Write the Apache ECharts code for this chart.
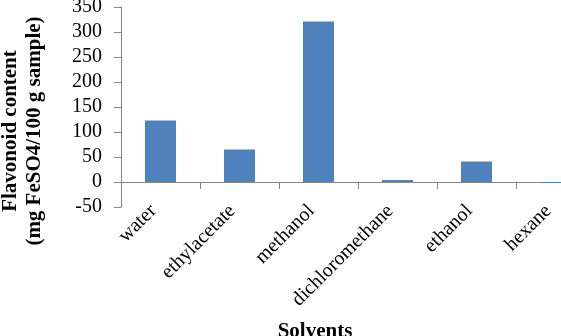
<!DOCTYPE html>
<html><head><meta charset="utf-8">
<script src="https://cdn.jsdelivr.net/npm/echarts@6/dist/echarts.min.js"></script>
<style>html,body{margin:0;padding:0;background:#fff}#c{width:561px;height:336px}</style>
</head><body><div id="c"></div>
<script>
const categories = ['water','ethylacetate','methanol','dichloromethane','ethanol','hexane'];
const values = [123, 65, 321, 4, 41, -2];
const yTicks = {min: -50, max: 350, interval: 50};
const yTitle = ['Flavonoid content', '(mg FeSO4/100 g sample)'];
const xTitle = 'Solvents';

const font = '"Liberation Serif","Times New Roman",serif';
const chart = echarts.init(document.getElementById('c'), null, {renderer:'canvas'});
chart.setOption({
  animation:false,
  grid:{left:121, top:7, width:474, height:200, containLabel:false, outerBoundsMode:'none'},
  xAxis:{type:'category', data:categories, boundaryGap:true,
    axisLine:{onZero:true, lineStyle:{color:'#868686', width:1}},
    axisTick:{show:true, length:7, alignWithLabel:false, lineStyle:{color:'#868686'}},
    axisLabel:{rotate:45, interval:0, fontFamily:font, fontSize:20, color:'#000', margin:8, verticalAlign:'bottom'},
    splitLine:{show:false}},
  yAxis:{type:'value', min:yTicks.min, max:yTicks.max, interval:yTicks.interval,
    axisLine:{show:true, onZero:false, lineStyle:{color:'#868686', width:1}},
    axisTick:{show:true, length:7, lineStyle:{color:'#868686'}},
    axisLabel:{fontFamily:font, fontSize:20, color:'#000', margin:19},
    splitLine:{show:false}},
  graphic:[
    {type:'text', x:11, y:131, rotation:Math.PI/2, style:{text:yTitle[0], font:'bold 21px '+font, fill:'#000', textAlign:'center', textVerticalAlign:'middle'}},
    {type:'text', x:35, y:131, rotation:Math.PI/2, style:{text:yTitle[1], font:'bold 21px '+font, fill:'#000', textAlign:'center', textVerticalAlign:'middle'}},
    {type:'text', x:315, y:332, style:{text:xTitle, font:'bold 21px '+font, fill:'#000', textAlign:'center', textVerticalAlign:'middle'}}
  ],
  series:[{type:'bar', data:values, barWidth:31, itemStyle:{color:'#4F81BD'}}]
});
</script></body></html>
